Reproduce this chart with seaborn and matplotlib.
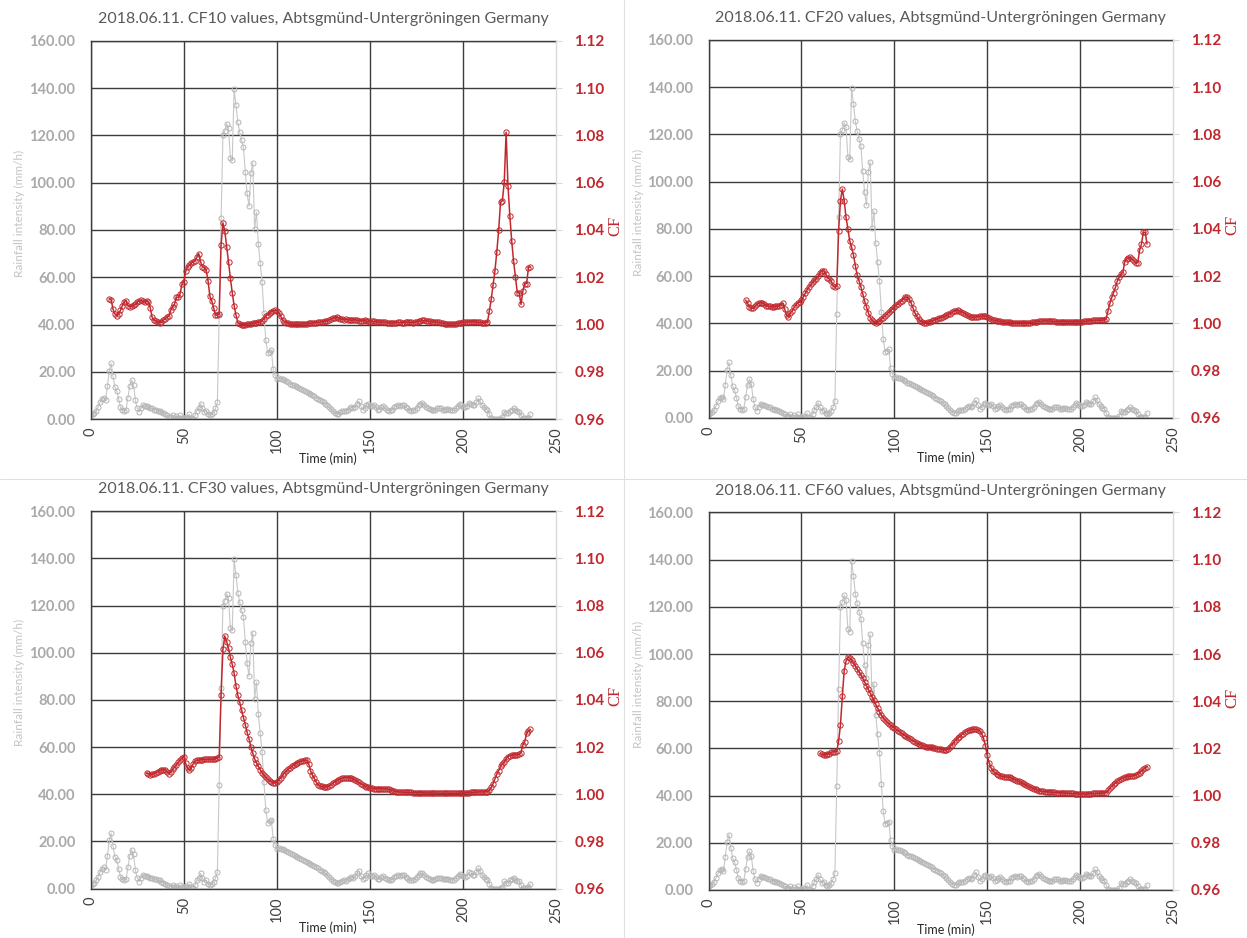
"""Rainfall intensity vs CF values, 2018.06.11, Abtsgmünd-Untergröningen."""

import matplotlib

matplotlib.use("Agg")
import matplotlib.pyplot as plt
import numpy as np
import seaborn as sns
from matplotlib.lines import Line2D

# rainfall intensity (mm/h), one value per minute from t = 0
RAIN_TIME = np.arange(0, 237)
RAINFALL = [
    1.5, 2.0, 2.5, 3.5, 5.0, 7.0, 8.5, 9.0, 8.0, 14.0,
    20.5, 23.5, 18.0, 13.5, 12.0, 8.5, 5.0, 4.0, 3.5, 4.0,
    9.0, 14.0, 16.5, 14.5, 8.0, 4.5, 3.0, 4.5, 6.0, 5.5,
    5.5, 5.0, 4.5, 4.5, 4.0, 4.0, 3.5, 3.5, 3.0, 2.5,
    2.0, 1.5, 1.0, 0.8, 1.5, 0.5, 1.2, 0.3, 1.5, 0.5,
    0.5, 1.0, 0.3, 2.0, 0.5, 0.2, 1.5, 3.5, 4.5, 6.5,
    4.5, 3.0, 3.5, 2.0, 1.5, 2.0, 3.0, 4.5, 7.0, 44.0,
    85.0, 120.0, 122.0, 125.0, 123.0, 110.5, 109.5, 139.5, 133.0, 125.5,
    121.5, 118.0, 115.0, 104.5, 95.5, 90.0, 104.0, 108.5, 80.5, 87.5,
    74.0, 66.0, 58.0, 45.0, 33.5, 28.0, 28.5, 29.0, 21.0, 18.5,
    17.0, 17.3, 17.0, 16.8, 16.4, 16.0, 15.5, 15.0, 14.6, 14.2,
    13.8, 13.4, 13.0, 12.6, 12.2, 11.8, 11.4, 11.0, 10.6, 10.1,
    9.6, 9.1, 8.6, 8.1, 7.6, 7.1, 6.5, 5.8, 5.0, 4.2,
    3.4, 2.7, 2.2, 2.3, 2.8, 3.2, 3.5, 3.2, 4.0, 4.6,
    5.0, 4.6, 5.2, 6.5, 7.5, 5.5, 4.0, 4.5, 6.0, 6.5,
    5.5, 5.5, 6.0, 5.0, 4.0, 4.2, 5.0, 5.3, 4.5, 4.0,
    3.5, 3.6, 4.0, 5.0, 5.5, 5.8, 5.5, 6.0, 5.8, 5.0,
    4.5, 3.8, 3.5, 3.6, 4.0, 4.8, 5.8, 6.5, 6.6, 5.8,
    5.0, 4.5, 4.3, 3.8, 3.8, 4.0, 4.5, 4.6, 4.5, 4.0,
    4.0, 4.2, 4.1, 3.8, 3.7, 3.8, 4.5, 5.5, 6.3, 5.8,
    5.2, 5.0, 5.5, 6.9, 6.5, 6.0, 6.0, 7.0, 8.7, 7.5,
    5.9, 5.0, 4.2, 3.8, 2.0, 0.3, 0.0, 0.0, 0.0, 0.0,
    0.2, 0.7, 3.1, 2.5, 2.4, 3.5, 4.0, 4.5, 3.8, 3.2,
    3.1, 1.5, 0.3, 0.3, 0.3, 0.5, 2.1,
]

# CF values, one per minute from the first full window
CF10_TIME = np.arange(10, 237)
CF10 = [
    1.0110, 1.0105, 1.0065, 1.0045, 1.0038, 1.0045, 1.0060, 1.0080, 1.0095, 1.0100,
    1.0080, 1.0075, 1.0078, 1.0082, 1.0085, 1.0095, 1.0100, 1.0102, 1.0098, 1.0095,
    1.0100, 1.0095, 1.0070, 1.0030, 1.0018, 1.0015, 1.0010, 1.0008, 1.0012, 1.0018,
    1.0025, 1.0032, 1.0035, 1.0060, 1.0075, 1.0085, 1.0115, 1.0115, 1.0130, 1.0170,
    1.0180, 1.0225, 1.0245, 1.0250, 1.0260, 1.0265, 1.0270, 1.0285, 1.0300, 1.0265,
    1.0245, 1.0240, 1.0230, 1.0185, 1.0120, 1.0100, 1.0070, 1.0040, 1.0040, 1.0045,
    1.0335, 1.0430, 1.0395, 1.0330, 1.0265, 1.0195, 1.0135, 1.0080, 1.0040, 1.0008,
    1.0002, 1.0000, 1.0000, 1.0000, 1.0002, 1.0003, 1.0003, 1.0005, 1.0005, 1.0008,
    1.0010, 1.0010, 1.0015, 1.0025, 1.0035, 1.0042, 1.0050, 1.0055, 1.0058, 1.0060,
    1.0058, 1.0050, 1.0035, 1.0020, 1.0012, 1.0008, 1.0005, 1.0003, 1.0002, 1.0001,
    1.0001, 1.0001, 1.0002, 1.0002, 1.0003, 1.0003, 1.0004, 1.0005, 1.0005, 1.0006,
    1.0007, 1.0008, 1.0009, 1.0010, 1.0011, 1.0012, 1.0014, 1.0016, 1.0019, 1.0022,
    1.0026, 1.0029, 1.0030, 1.0028, 1.0024, 1.0022, 1.0021, 1.0022, 1.0021, 1.0019,
    1.0018, 1.0019, 1.0020, 1.0018, 1.0016, 1.0015, 1.0016, 1.0017, 1.0015, 1.0013,
    1.0012, 1.0013, 1.0014, 1.0012, 1.0010, 1.0009, 1.0010, 1.0011, 1.0010, 1.0008,
    1.0007, 1.0006, 1.0006, 1.0007, 1.0008, 1.0009, 1.0009, 1.0008, 1.0008, 1.0009,
    1.0010, 1.0010, 1.0009, 1.0008, 1.0009, 1.0011, 1.0013, 1.0015, 1.0017, 1.0017,
    1.0016, 1.0015, 1.0013, 1.0012, 1.0011, 1.0011, 1.0010, 1.0009, 1.0007, 1.0005,
    1.0004, 1.0003, 1.0003, 1.0002, 1.0002, 1.0003, 1.0004, 1.0005, 1.0006, 1.0008,
    1.0009, 1.0010, 1.0010, 1.0011, 1.0012, 1.0012, 1.0011, 1.0010, 1.0010, 1.0009,
    1.0008, 1.0007, 1.0008, 1.0010, 1.0057, 1.0106, 1.0167, 1.0227, 1.0307, 1.0399,
    1.0517, 1.0524, 1.0602, 1.0814, 1.0588, 1.0460, 1.0354, 1.0269, 1.0202, 1.0135,
    1.0135, 1.0085, 1.0142, 1.0173, 1.0173, 1.0241, 1.0244,
]

CF20_TIME = np.arange(20, 237)
CF20 = [
    1.0099, 1.0085, 1.0070, 1.0064, 1.0064, 1.0072, 1.0082, 1.0086, 1.0088, 1.0086,
    1.0082, 1.0076, 1.0073, 1.0072, 1.0071, 1.0071, 1.0072, 1.0073, 1.0074, 1.0080,
    1.0086, 1.0060, 1.0035, 1.0028, 1.0045, 1.0052, 1.0068, 1.0078, 1.0087, 1.0090,
    1.0100, 1.0112, 1.0127, 1.0142, 1.0154, 1.0165, 1.0174, 1.0182, 1.0190, 1.0200,
    1.0215, 1.0223, 1.0223, 1.0210, 1.0194, 1.0188, 1.0180, 1.0160, 1.0154, 1.0160,
    1.0393, 1.0520, 1.0569, 1.0520, 1.0449, 1.0400, 1.0350, 1.0322, 1.0290, 1.0245,
    1.0205, 1.0180, 1.0155, 1.0125, 1.0095, 1.0070, 1.0045, 1.0025, 1.0013, 1.0006,
    1.0004, 1.0006, 1.0010, 1.0018, 1.0025, 1.0032, 1.0040, 1.0047, 1.0055, 1.0063,
    1.0070, 1.0077, 1.0083, 1.0090, 1.0096, 1.0105, 1.0112, 1.0112, 1.0103, 1.0087,
    1.0066, 1.0046, 1.0030, 1.0018, 1.0010, 1.0006, 1.0004, 1.0004, 1.0006, 1.0008,
    1.0011, 1.0013, 1.0016, 1.0019, 1.0022, 1.0025, 1.0028, 1.0031, 1.0034, 1.0038,
    1.0042, 1.0047, 1.0052, 1.0054, 1.0055, 1.0053, 1.0050, 1.0046, 1.0042, 1.0036,
    1.0030, 1.0027, 1.0026, 1.0026, 1.0027, 1.0029, 1.0030, 1.0031, 1.0032, 1.0030,
    1.0028, 1.0023, 1.0018, 1.0015, 1.0013, 1.0011, 1.0010, 1.0009, 1.0008, 1.0007,
    1.0006, 1.0005, 1.0005, 1.0004, 1.0004, 1.0004, 1.0004, 1.0004, 1.0004, 1.0004,
    1.0004, 1.0004, 1.0004, 1.0004, 1.0005, 1.0006, 1.0007, 1.0008, 1.0009, 1.0010,
    1.0010, 1.0011, 1.0011, 1.0010, 1.0010, 1.0009, 1.0009, 1.0008, 1.0008, 1.0008,
    1.0008, 1.0008, 1.0008, 1.0007, 1.0007, 1.0007, 1.0007, 1.0007, 1.0008, 1.0008,
    1.0008, 1.0008, 1.0009, 1.0010, 1.0011, 1.0011, 1.0012, 1.0013, 1.0014, 1.0014,
    1.0014, 1.0014, 1.0014, 1.0015, 1.0020, 1.0054, 1.0085, 1.0110, 1.0130, 1.0153,
    1.0180, 1.0195, 1.0210, 1.0216, 1.0262, 1.0273, 1.0277, 1.0280, 1.0272, 1.0266,
    1.0254, 1.0258, 1.0310, 1.0336, 1.0386, 1.0386, 1.0336,
]

CF30_TIME = np.arange(30, 237)
CF30 = [
    1.0090, 1.0086, 1.0083, 1.0084, 1.0087, 1.0092, 1.0096, 1.0100, 1.0103, 1.0104,
    1.0104, 1.0096, 1.0088, 1.0096, 1.0105, 1.0115, 1.0125, 1.0135, 1.0145, 1.0153,
    1.0160, 1.0131, 1.0110, 1.0103, 1.0112, 1.0128, 1.0140, 1.0144, 1.0145, 1.0146,
    1.0147, 1.0148, 1.0148, 1.0148, 1.0148, 1.0148, 1.0148, 1.0150, 1.0155, 1.0157,
    1.0421, 1.0614, 1.0671, 1.0647, 1.0618, 1.0580, 1.0550, 1.0513, 1.0460, 1.0420,
    1.0390, 1.0357, 1.0325, 1.0295, 1.0262, 1.0235, 1.0200, 1.0175, 1.0150, 1.0133,
    1.0118, 1.0104, 1.0092, 1.0082, 1.0072, 1.0064, 1.0058, 1.0053, 1.0049, 1.0048,
    1.0052, 1.0060, 1.0070, 1.0080, 1.0090, 1.0098, 1.0105, 1.0112, 1.0118, 1.0124,
    1.0130, 1.0134, 1.0138, 1.0141, 1.0143, 1.0144, 1.0145, 1.0130, 1.0100, 1.0082,
    1.0068, 1.0052, 1.0040, 1.0035, 1.0033, 1.0031, 1.0030, 1.0032, 1.0035, 1.0040,
    1.0046, 1.0052, 1.0057, 1.0061, 1.0065, 1.0068, 1.0070, 1.0071, 1.0071, 1.0070,
    1.0068, 1.0064, 1.0060, 1.0055, 1.0050, 1.0045, 1.0040, 1.0036, 1.0032, 1.0029,
    1.0027, 1.0025, 1.0024, 1.0024, 1.0024, 1.0024, 1.0024, 1.0023, 1.0023, 1.0022,
    1.0021, 1.0018, 1.0015, 1.0013, 1.0011, 1.0010, 1.0010, 1.0009, 1.0009, 1.0008,
    1.0008, 1.0008, 1.0008, 1.0007, 1.0007, 1.0007, 1.0007, 1.0007, 1.0007, 1.0006,
    1.0006, 1.0006, 1.0006, 1.0005, 1.0005, 1.0005, 1.0004, 1.0004, 1.0004, 1.0004,
    1.0004, 1.0004, 1.0004, 1.0004, 1.0004, 1.0004, 1.0004, 1.0004, 1.0005, 1.0005,
    1.0006, 1.0006, 1.0007, 1.0007, 1.0008, 1.0008, 1.0009, 1.0009, 1.0010, 1.0010,
    1.0010, 1.0010, 1.0011, 1.0011, 1.0018, 1.0030, 1.0045, 1.0065, 1.0085, 1.0100,
    1.0118, 1.0128, 1.0138, 1.0150, 1.0160, 1.0164, 1.0166, 1.0167, 1.0167, 1.0167,
    1.0170, 1.0177, 1.0210, 1.0223, 1.0258, 1.0268, 1.0275,
]

CF60_TIME = np.arange(60, 237)
CF60 = [
    1.0179, 1.0175, 1.0172, 1.0173, 1.0175, 1.0178, 1.0183, 1.0186, 1.0186, 1.0188,
    1.0230, 1.0300, 1.0420, 1.0530, 1.0570, 1.0588, 1.0583, 1.0575, 1.0562, 1.0550,
    1.0536, 1.0524, 1.0511, 1.0497, 1.0481, 1.0466, 1.0450, 1.0435, 1.0419, 1.0403,
    1.0388, 1.0371, 1.0355, 1.0342, 1.0330, 1.0321, 1.0312, 1.0305, 1.0298, 1.0292,
    1.0287, 1.0281, 1.0275, 1.0269, 1.0264, 1.0258, 1.0253, 1.0248, 1.0243, 1.0238,
    1.0233, 1.0228, 1.0223, 1.0219, 1.0216, 1.0213, 1.0210, 1.0208, 1.0207, 1.0205,
    1.0204, 1.0202, 1.0201, 1.0199, 1.0198, 1.0196, 1.0195, 1.0194, 1.0193, 1.0198,
    1.0207, 1.0216, 1.0226, 1.0235, 1.0243, 1.0250, 1.0257, 1.0263, 1.0268, 1.0273,
    1.0277, 1.0279, 1.0281, 1.0281, 1.0281, 1.0278, 1.0274, 1.0262, 1.0243, 1.0210,
    1.0170, 1.0140, 1.0118, 1.0106, 1.0098, 1.0093, 1.0088, 1.0084, 1.0081, 1.0080,
    1.0079, 1.0078, 1.0078, 1.0075, 1.0071, 1.0067, 1.0063, 1.0060, 1.0056, 1.0052,
    1.0048, 1.0044, 1.0040, 1.0036, 1.0033, 1.0029, 1.0026, 1.0023, 1.0021, 1.0019,
    1.0018, 1.0017, 1.0016, 1.0015, 1.0015, 1.0014, 1.0014, 1.0013, 1.0013, 1.0012,
    1.0012, 1.0011, 1.0011, 1.0010, 1.0010, 1.0009, 1.0009, 1.0008, 1.0008, 1.0007,
    1.0007, 1.0007, 1.0007, 1.0007, 1.0007, 1.0008, 1.0008, 1.0009, 1.0009, 1.0010,
    1.0010, 1.0010, 1.0011, 1.0012, 1.0013, 1.0022, 1.0031, 1.0040, 1.0047, 1.0054,
    1.0060, 1.0066, 1.0071, 1.0075, 1.0078, 1.0080, 1.0081, 1.0082, 1.0083, 1.0085,
    1.0087, 1.0092, 1.0097, 1.0104, 1.0111, 1.0117, 1.0123,
]

CF_NAMES = ["CF10", "CF20", "CF30", "CF60"]
X_TICKS = [0, 50, 100, 150, 200, 250]
RAIN_TICKS = [0, 20, 40, 60, 80, 100, 120, 140, 160]
CF_TICKS = [0.96, 0.98, 1.00, 1.02, 1.04, 1.06, 1.08, 1.10, 1.12]

RED = "#c0282e"
RAIN_LINE = "#c8c8c8"
RAIN_EDGE = "#b5b5b5"
GRID = "#3c3c3c"
FAINT = "#d9d9d9"

# panel rectangles in figure fractions (left, bottom, width, height)
PANEL_RECTS = [
    (0.0727, 0.5533, 0.3735, 0.4030),
    (0.5682, 0.5544, 0.3725, 0.4030),
    (0.0727, 0.0526, 0.3735, 0.4025),
    (0.5682, 0.0512, 0.3725, 0.4025),
]


def draw_panel(fig, rect, name, cf_time, cf_values):
    ax = fig.add_axes(rect)
    sns.lineplot(
        x=RAIN_TIME, y=RAINFALL, ax=ax, color=RAIN_LINE, linewidth=0.8,
        marker="o", markersize=3.6, markerfacecolor="none",
        markeredgecolor=RAIN_EDGE, markeredgewidth=0.7, errorbar=None,
    )
    ax.set_xlim(0, 250)
    ax.set_ylim(0, 160)
    ax.set_xticks(X_TICKS, labels=[str(t) for t in X_TICKS], rotation=90)
    ax.set_yticks(RAIN_TICKS, labels=[f"{v:.2f}" for v in RAIN_TICKS],
                  fontweight="bold")
    ax.tick_params(axis="x", length=0, pad=6, labelsize=10.5, labelcolor="#404040")
    ax.tick_params(axis="y", length=0, pad=11, labelsize=10.5, labelcolor="#a9a9a9")
    ax.grid(True, color=GRID, linewidth=1.0)
    ax.xaxis.get_gridlines()[-1].set_visible(False)
    for side in ["left", "bottom", "top"]:
        ax.spines[side].set_color(GRID)
        ax.spines[side].set_linewidth(1.0)
    ax.spines["right"].set_visible(False)

    ax.set_xlabel("Time (min)", fontsize=9, color="#262626")
    ax.xaxis.set_label_coords(0.51, -0.088)
    ax.set_ylabel("Rainfall intensity (mm/h)", fontsize=8.5, color="#c4c4c4")
    ax.yaxis.set_label_coords(-0.14, 0.545)

    ax2 = ax.twinx()
    sns.lineplot(
        x=cf_time, y=cf_values, ax=ax2, color=RED, linewidth=1.1,
        marker="o", markersize=3.8, markerfacecolor="none",
        markeredgecolor=RED, markeredgewidth=0.7, errorbar=None,
    )
    ax2.set_xlim(0, 250)
    ax2.set_ylim(0.96, 1.12)
    ax2.set_yticks(CF_TICKS, labels=[f"{v:.2f}" for v in CF_TICKS],
                   fontweight="bold")
    ax2.tick_params(axis="y", length=4, width=0.8, color=FAINT, pad=9,
                    labelsize=11, labelcolor=RED)
    ax2.grid(False)
    for side in ["left", "bottom", "top"]:
        ax2.spines[side].set_visible(False)
    ax2.spines["right"].set_color(FAINT)
    ax2.spines["right"].set_linewidth(1.0)
    ax2.set_ylabel("CF", fontsize=12, color=RED, family=["Liberation Serif"])
    ax2.yaxis.set_label_coords(1.11, 0.51)

    ax.text(0.5, 1.058, f"2018.06.11. {name} values, Abtsgmünd-Untergröningen Germany",
            transform=ax.transAxes, ha="center", va="center",
            fontsize=11.5, color="#595959")


def main():
    sns.set_style("white")
    plt.rcParams["font.family"] = ["Lato", "DejaVu Sans"]

    fig = plt.figure(figsize=(12.47, 9.38), dpi=100)
    series = [(CF10_TIME, CF10), (CF20_TIME, CF20), (CF30_TIME, CF30), (CF60_TIME, CF60)]
    for rect, name, (cf_time, cf_values) in zip(PANEL_RECTS, CF_NAMES, series):
        draw_panel(fig, rect, name, cf_time, cf_values)

    # thin separators between the four panels
    fig.add_artist(Line2D([624 / 1247] * 2, [0, 1], transform=fig.transFigure,
                          color="#e0e0e0", linewidth=0.8))
    fig.add_artist(Line2D([0, 1], [1 - 479 / 938] * 2, transform=fig.transFigure,
                          color="#e0e0e0", linewidth=0.8))

    fig.savefig("out.png", dpi=100, facecolor="white")
    plt.close(fig)


if __name__ == "__main__":
    main()
